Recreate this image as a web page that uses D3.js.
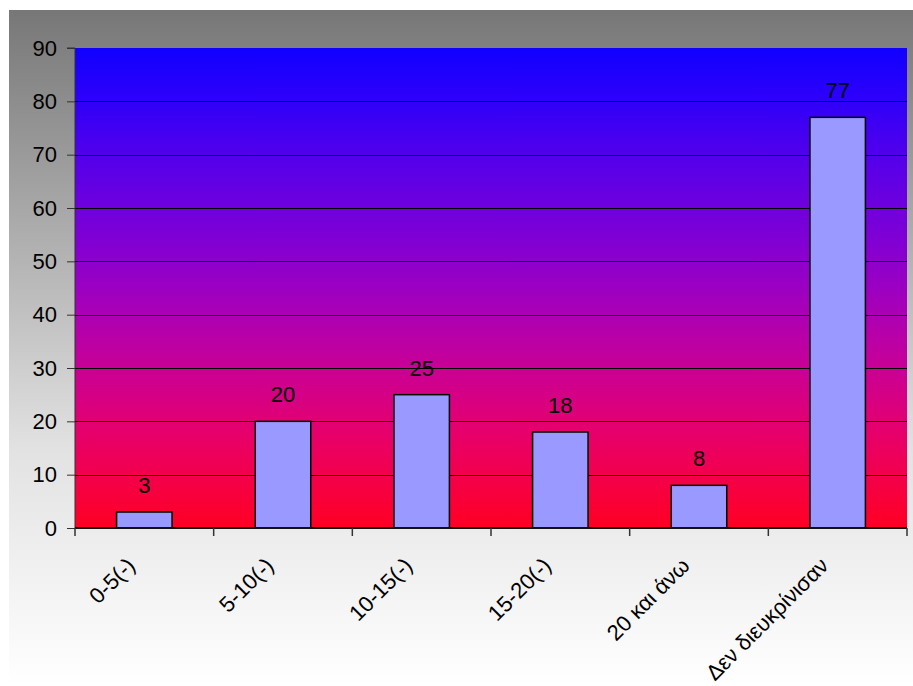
<!DOCTYPE html>
<html><head><meta charset="utf-8">
<script src="https://cdn.jsdelivr.net/npm/d3@7"></script>
<style>body{margin:0;background:#fff}svg{display:block}text{font-family:Arial,"Liberation Sans",sans-serif}</style>
</head><body><svg id="c" width="913" height="686"></svg>
<script>
const categories = ["0-5(-)", "5-10(-)", "10-15(-)", "15-20(-)", "20 και άνω", "Δεν διευκρίνισαν"];
const values = [3, 20, 25, 18, 8, 77];
const yTicks = [0, 10, 20, 30, 40, 50, 60, 70, 80, 90];

const svg = d3.select("#c");
const defs = svg.append("defs");
const og = defs.append("linearGradient").attr("id","outer").attr("x1",0).attr("y1",0).attr("x2",0).attr("y2",1);
og.append("stop").attr("offset","0").attr("stop-color","#777777");
og.append("stop").attr("offset","0.65").attr("stop-color","#e2e2e2");
og.append("stop").attr("offset","1").attr("stop-color","#ffffff");
const pg = defs.append("linearGradient").attr("id","plot").attr("x1",0).attr("y1",0).attr("x2",0).attr("y2",1);
[[0,"#1000ff"],[0.1,"#2c00fa"],[0.25,"#5a00e8"],[0.4,"#8000d4"],[0.5,"#9c00c2"],[0.6,"#b800a8"],[0.7,"#d0008c"],[0.8,"#e6006c"],[0.9,"#f40048"],[1,"#ff0022"]]
  .forEach(s => pg.append("stop").attr("offset",s[0]).attr("stop-color",s[1]));

svg.append("rect").attr("x",9).attr("y",10).attr("width",904).attr("height",676).attr("fill","url(#outer)");

const L = 75, R = 907, T = 48, B = 528;
const xb = d3.scaleBand().domain(categories).range([L, R]);
const y = d3.scaleLinear().domain([0, 90]).range([B, T]);

svg.append("rect").attr("x",L).attr("y",T).attr("width",R-L).attr("height",B-T).attr("fill","url(#plot)");

// gridlines
svg.append("g").selectAll("line").data(yTicks.filter(d => d > 0 && d < 90)).join("line")
  .attr("x1",L).attr("x2",R).attr("y1",d=>Math.round(y(d))+0.5).attr("y2",d=>Math.round(y(d))+0.5)
  .attr("stroke","#000").attr("stroke-width",1);

// bars
const bw = xb.bandwidth()*0.4;
svg.append("g").selectAll("rect").data(values).join("rect")
  .attr("x",(d,i)=>xb(categories[i]) + xb.bandwidth()/2 - bw/2)
  .attr("y",d=>y(d)).attr("width",bw).attr("height",d=>B-y(d))
  .attr("fill","#9999ff").attr("stroke","#000").attr("stroke-width",1.5);

// value labels
svg.append("g").selectAll("text").data(values).join("text")
  .attr("x",(d,i)=>xb(categories[i]) + xb.bandwidth()/2)
  .attr("y",d=>y(d)-19).attr("text-anchor","middle")
  .attr("font-size",22).attr("fill","#000").text(d=>d);

// y axis
const ya = d3.axisLeft(y).tickValues(yTicks).tickSize(8).tickPadding(10);
const yg = svg.append("g").attr("transform",`translate(${L},0)`).call(ya);
yg.attr("font-size",22).attr("font-family",null);
yg.select(".domain").attr("stroke","#333").attr("d",`M-8,${T}H0V${B}`);
yg.selectAll(".tick line").attr("stroke","#333");
yg.selectAll(".tick text").attr("font-size",22).attr("fill","#000");
// x axis line
svg.append("line").attr("x1",L).attr("x2",R).attr("y1",B).attr("y2",B).attr("stroke","#111").attr("stroke-width",2);
// x ticks at category boundaries
const bounds = categories.map(c=>xb(c)).concat([R]);
svg.append("g").selectAll("line").data(bounds).join("line")
  .attr("x1",d=>d).attr("x2",d=>d).attr("y1",B).attr("y2",B+8).attr("stroke","#333").attr("stroke-width",1.5);

// category labels
svg.append("g").selectAll("text").data(categories).join("text")
  .attr("transform",d=>`translate(${xb(d)+xb.bandwidth()/2-8},${B+39}) rotate(-45)`)
  .attr("text-anchor","end").attr("font-size",22).attr("fill","#000").text(d=>d);
</script></body></html>
